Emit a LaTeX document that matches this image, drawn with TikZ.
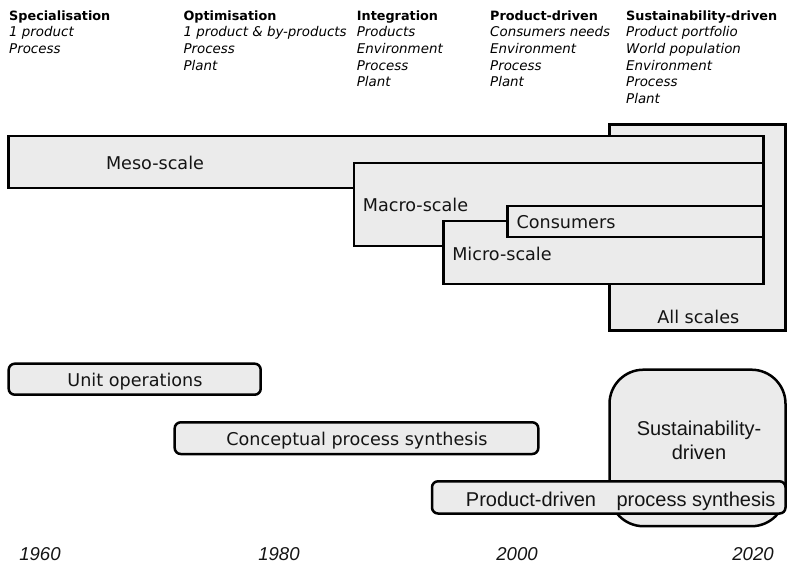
\documentclass[tikz,border=0pt]{standalone}
\usepackage{fontspec}
\usetikzlibrary{fit}
\newfontfamily\verdfont{DejaVu Sans}
\newfontfamily\arialfont{Liberation Sans}
\definecolor{boxfill}{RGB}{235,235,235}
\definecolor{ink}{RGB}{20,20,20}

\begin{document}
\begin{tikzpicture}[x=1pt,y=-1pt,
  scalebox/.style={draw=black, fill=boxfill, line width=2.5pt, inner sep=0pt},
  eraspan/.style={scalebox, rounded corners=6pt},
  bigera/.style={scalebox, rounded corners=34pt},
  head/.style={font=\verdfont\bfseries\fontsize{12.8}{15}\selectfont, text=black, inner sep=0pt, anchor=base west},
  item/.style={font=\verdfont\itshape\fontsize{13.4}{16}\selectfont, text=black, inner sep=0pt, anchor=base west},
  lab/.style={font=\verdfont\fontsize{17.6}{20}\selectfont, text=ink, inner sep=0pt, anchor=base},
  alab/.style={font=\arialfont\fontsize{20}{23}\selectfont, text=ink, inner sep=0pt, anchor=base},
  year/.style={font=\arialfont\itshape\fontsize{18.6}{21}\selectfont, text=ink, inner sep=0pt, anchor=base}
]
\useasboundingbox (0,0) rectangle (787,563);

% ---- era headings with their focus lists
\foreach \cx/\cid/\hd/\items in {
    9/spec/Specialisation/{1 product,Process},
    183.3/opt/Optimisation/{1 product \& by-products,Process,Plant},
    356.7/integ/Integration/{Products,Environment,Process,Plant},
    490/prod/Product-driven/{Consumers needs,Environment,Process,Plant},
    626/sust/Sustainability-driven/{Product portfolio,World population,Environment,Process,Plant}}{
  \node[head] (\cid-head) at (\cx,20) {\hd};
  \foreach \it [count=\k] in \items
    \node[item] (\cid-\k) at (\cx,20+16.7*\k) {\it};
}

% ---- scales (back to front)
\node[scalebox, fit={(609.5,124.5) (785.5,330.7)}] (all) {};
\node[scalebox, fit={(8.7,136.2) (763.3,187.8)}] (meso) {};
\node[scalebox, fit={(354,162.8) (763.3,246.2)}] (macro) {};
\node[scalebox, fit={(443.7,221.2) (763.3,283.8)}] (micro) {};
\node[scalebox, fit={(507.3,206) (763.3,237.2)}] (cons) {};

\node[lab] (meso-lab)  at (155,169.5)   {Meso-scale};
\node[lab] (macro-lab) at (415.5,211.5) {Macro-scale};
\node[lab] (cons-lab)  at (566,228)     {Consumers};
\node[lab] (micro-lab) at (502,260.5)   {Micro-scale};
\node[lab] (all-lab)   at (698.3,323)   {All scales};

% ---- design approaches
\node[eraspan, fit={(8.7,363.7) (260.7,394.7)}] (unitops) {};
\node[eraspan, fit={(174.7,422.3) (538.3,454)}] (cps) {};
\node[bigera, fit={(609.5,369.7) (785.5,526.2)}] (sdps) {};
\node[eraspan, fit={(432,481.3) (785.5,513.5)}] (pdps) {};

\node[lab]  (unitops-lab) at (135,386.5) {Unit operations};
\node[lab]  (cps-lab)     at (357,445.5) {Conceptual process synthesis};
\node[alab] (sdps-lab1)   at (699,435.5) {Sustainability-};
\node[alab] (sdps-lab2)   at (699,459.5) {driven};
\node[alab] (pdps-lab1)   at (531,506)   {Product-driven};
\node[alab] (pdps-lab2)   at (696,506)   {process synthesis};

% ---- time axis labels
\node[year] (y1960) at (40,560)  {1960};
\node[year] (y1980) at (279,560) {1980};
\node[year] (y2000) at (517,560) {2000};
\node[year] (y2020) at (753,560) {2020};
\end{tikzpicture}
\end{document}
